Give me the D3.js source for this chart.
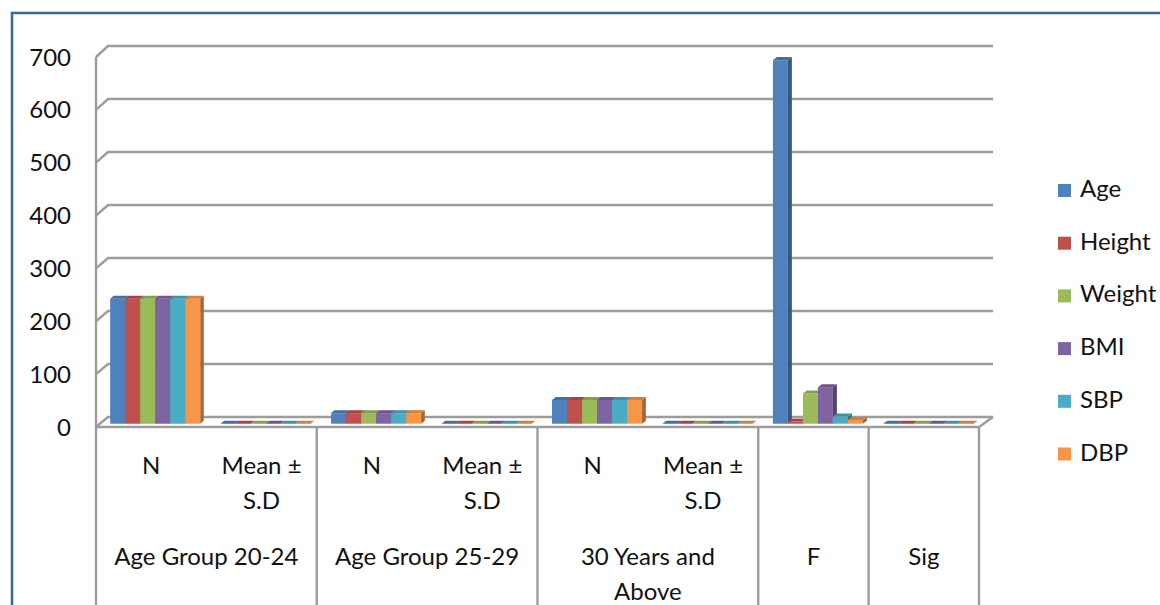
<!DOCTYPE html>
<html>
<head>
<meta charset="utf-8">
<script src="https://cdn.jsdelivr.net/npm/d3@7"></script>
<style>
  html, body { margin: 0; padding: 0; background: #fff; }
  svg { display: block; }
  text { font-family: Lato, "Open Sans", sans-serif; fill: #111; }
</style>
</head>
<body>
<svg id="chart" width="1160" height="605"></svg>
<script>
// ---- data ----
const series = ["Age", "Height", "Weight", "BMI", "SBP", "DBP"];
const seriesColors = ["#4F81BD", "#C0504D", "#9BBB59", "#8064A2", "#4BACC6", "#F79646"];

const subLabels = [["N"], ["Mean ±", "S.D"], ["N"], ["Mean ±", "S.D"], ["N"], ["Mean ±", "S.D"], [], []];
const groupLabels = [["Age Group 20-24"], ["Age Group 25-29"], ["30 Years and", "Above"], ["F"], ["Sig"]];
const groupSizes = [2, 2, 2, 1, 1];

const ageValues    = [236, 0, 20, 0, 45, 0, 687, 0];
const heightValues = [236, 0, 20, 0, 45, 0, 4, 0];
const weightValues = [236, 0, 20, 0, 45, 0, 57, 0];
const bmiValues    = [236, 0, 20, 0, 45, 0, 69, 0];
const sbpValues    = [236, 0, 20, 0, 45, 0, 14, 0];
const dbpValues    = [236, 0, 20, 0, 45, 0, 7, 0];
const seriesValues = [ageValues, heightValues, weightValues, bmiValues, sbpValues, dbpValues];

const yTicks = [0, 100, 200, 300, 400, 500, 600, 700];

// ---- layout ----
const svg = d3.select("#chart");
const front = { x0: 96, x1: 979, y0: 427, yTop: 57 };
const back  = { x0: 108, x1: 993, y0: 417, yTop: 46 };
const barDepth = [0.33, 0.62];   // fraction of floor depth occupied by the bars

const yFront = d3.scaleLinear().domain([0, 700]).range([front.y0, front.yTop]);
const yBack  = d3.scaleLinear().domain([0, 700]).range([back.y0, back.yTop]);
const xFront = d3.scaleBand().domain(d3.range(subLabels.length)).range([front.x0, front.x1]);
const xToBack = d3.scaleLinear().domain([front.x0, front.x1]).range([back.x0, back.x1]);
const xInner = d3.scaleBand().domain(series).range([0, xFront.bandwidth()]).paddingOuter(0.68);

// project a point given in the front plane (x, value) back to depth t (0 = front, 1 = back wall)
function proj(xf, v, t) {
  const xb = xToBack(xf);
  return [xf + t * (xb - xf), yFront(v) + t * (yBack(v) - yFront(v))];
}

// outer frame
svg.append("rect")
  .attr("x", 12).attr("y", 13).attr("width", 1170).attr("height", 620)
  .attr("fill", "#fff").attr("stroke", "#3d6296").attr("stroke-width", 2.5);

const gridColor = "#9c9c9c";

// back wall gridlines + side-wall diagonals
const grid = svg.append("g").attr("stroke", gridColor).attr("stroke-width", 2.4).attr("fill", "none");
grid.selectAll("path.grid").data(yTicks).join("path")
  .attr("class", "grid")
  .attr("d", v => `M${front.x0},${yFront(v)}L${back.x0},${yBack(v)}L${back.x1},${yBack(v)}`);

// value axis line (front left edge) continuing into the category axis
grid.append("line")
  .attr("x1", front.x0).attr("x2", front.x0)
  .attr("y1", yFront(700)).attr("y2", 605);

// floor front edge and right edge
grid.append("path")
  .attr("d", `M${front.x0},${front.y0}L${front.x1},${front.y0}L${back.x1},${back.y0}`);

// category dividers
let acc = 0;
const dividerIdx = groupSizes.map(s => (acc += s));
grid.selectAll("line.div").data(dividerIdx).join("line")
  .attr("class", "div")
  .attr("x1", i => xFront.range()[0] + i * xFront.step())
  .attr("x2", i => xFront.range()[0] + i * xFront.step())
  .attr("y1", front.y0).attr("y2", 605);

// ---- 3D bars ----
const bars = [];
subLabels.forEach((_, ci) => {
  series.forEach((s, si) => {
    bars.push({ ci, si, v: seriesValues[si][ci] });
  });
});

const barG = svg.append("g");
bars.forEach(b => {
  const xl = xFront(b.ci) + xInner(series[b.si]);
  const xr = xl + xInner.bandwidth();
  const [t0, t1] = barDepth;
  const base = d3.color(seriesColors[b.si]);
  const pts = a => a.map(p => p.join(",")).join(" ");
  const g = barG.append("g");
  // right side face
  g.append("polygon")
    .attr("points", pts([proj(xr, 0, t0), proj(xr, 0, t1), proj(xr, b.v, t1), proj(xr, b.v, t0)]))
    .attr("fill", base.darker(1.1));
  // front face
  g.append("polygon")
    .attr("points", pts([proj(xl, 0, t0), proj(xr, 0, t0), proj(xr, b.v, t0), proj(xl, b.v, t0)]))
    .attr("fill", base);
  // top face
  g.append("polygon")
    .attr("points", pts([proj(xl, b.v, t0), proj(xr, b.v, t0), proj(xr, b.v, t1), proj(xl, b.v, t1)]))
    .attr("fill", base.darker(0.45));
});

// ---- value axis labels ----
svg.append("g").selectAll("text").data(yTicks).join("text")
  .attr("x", 71).attr("y", v => yFront(v) + 8.5)
  .attr("text-anchor", "end").attr("font-size", 24)
  .text(d => d);

// ---- category labels ----
const lineH = 35;
const subG = svg.append("g").attr("font-size", 24).attr("text-anchor", "middle");
subLabels.forEach((lines, ci) => {
  lines.forEach((ln, li) => {
    subG.append("text")
      .attr("x", xFront(ci) + xFront.bandwidth() / 2)
      .attr("y", 474 + li * lineH)
      .text(ln);
  });
});

let start = 0;
groupLabels.forEach((lines, gi) => {
  const x0 = xFront.range()[0] + start * xFront.step();
  const x1 = x0 + groupSizes[gi] * xFront.step();
  start += groupSizes[gi];
  lines.forEach((ln, li) => {
    subG.append("text")
      .attr("x", (x0 + x1) / 2)
      .attr("y", 565 + li * lineH)
      .text(ln);
  });
});

// ---- legend ----
const legend = svg.append("g").attr("transform", "translate(1058,197)");
const item = legend.selectAll("g").data(series).join("g")
  .attr("transform", (d, i) => `translate(0,${i * 52.7})`);
item.append("rect")
  .attr("x", 0).attr("y", -13).attr("width", 13).attr("height", 13)
  .attr("fill", (d, i) => seriesColors[i]);
item.append("text")
  .attr("x", 22).attr("y", 0).attr("font-size", 24)
  .text(d => d);
</script>
</body>
</html>
